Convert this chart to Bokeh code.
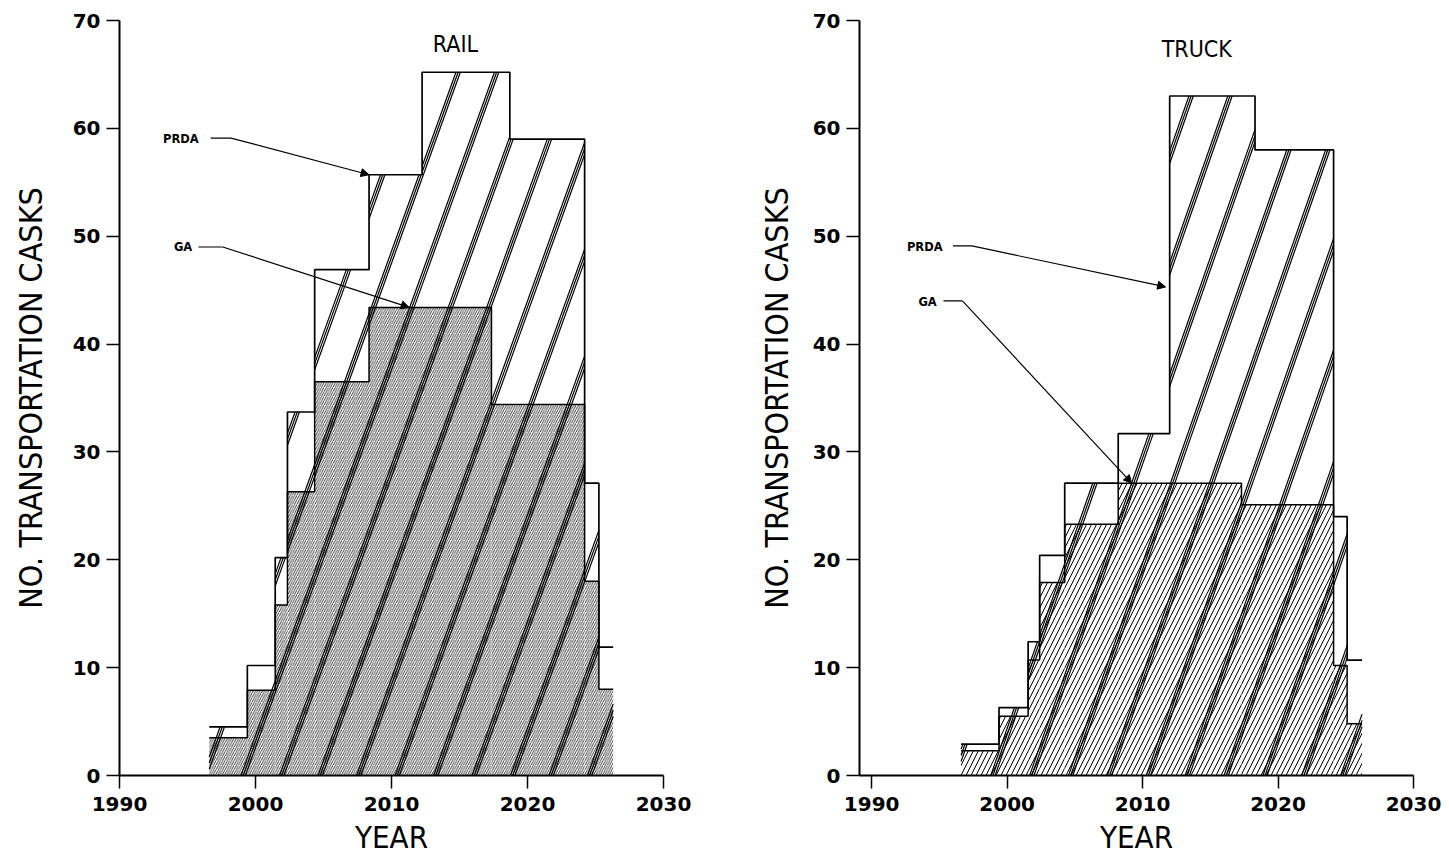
import numpy as np
from bokeh.plotting import figure
from bokeh.layouts import row
from bokeh.models import Arrow, NormalHead, FixedTicker
from bokeh.core.properties import value
from bokeh.embed import file_html
from bokeh.resources import INLINE

# Annual cask shipments, step histograms (bin edges in years)
rail_prda_edges = [1996.6, 1999.4, 2001.45, 2002.35, 2004.35, 2008.35, 2012.25, 2018.7, 2024.2, 2025.25, 2026.3]
rail_prda = [4.5, 10.2, 20.2, 33.7, 46.9, 55.7, 65.2, 59.0, 27.1, 11.9]
rail_ga_edges = [1996.6, 1999.4, 2001.45, 2002.35, 2004.35, 2008.35, 2017.35, 2024.2, 2025.25, 2026.3]
rail_ga = [3.5, 7.9, 15.8, 26.3, 36.5, 43.4, 34.4, 18.0, 8.0]

truck_prda_edges = [1996.6, 1999.4, 2001.55, 2002.4, 2004.25, 2008.2, 2012.0, 2018.3, 2024.1, 2025.1, 2026.2]
truck_prda = [2.9, 6.3, 12.4, 20.4, 27.1, 31.7, 63.0, 58.0, 24.0, 10.7]
truck_ga_edges = [1996.6, 1999.4, 2001.55, 2002.4, 2004.25, 2008.2, 2017.3, 2024.1, 2025.1, 2026.2]
truck_ga = [2.3, 5.5, 10.7, 17.9, 23.3, 27.1, 25.1, 10.2, 4.8]

year_ticks = [1990, 2000, 2010, 2020, 2030]
cask_ticks = [0, 10, 20, 30, 40, 50, 60, 70]

TICK_FONT = "DejaVu Sans"
LABEL_FONT = "DejaVu Sans Condensed"


def band_segments(edges, heights, first, spacing, slope, offsets):
    """Clip steep triple-line bands to the step envelope."""
    x0, y0, x1, y1 = [], [], [], []
    k_lo = int(np.floor((1950 - first) / spacing))
    k_hi = int(np.ceil((edges[-1] - first) / spacing)) + 1
    for k in range(k_lo, k_hi):
        for off in offsets:
            c = first + k * spacing + off
            for a, b, h in zip(edges[:-1], edges[1:], heights):
                xs = max(a, c)
                xe = min(b, c + h / slope)
                if xe > xs:
                    x0.append(xs)
                    y0.append(slope * (xs - c))
                    x1.append(xe)
                    y1.append(slope * (xe - c))
    return x0, y0, x1, y1


def panel(name, prda_edges, prda, ga_edges, ga, hatch, band, x_start,
          width, borders, title_xy, notes, ylabel_standoff):
    left, right, top, bottom = borders
    p = figure(width=width, height=857, x_range=(x_start, 2030), y_range=(0, 70),
               output_backend="svg", toolbar_location=None,
               min_border_left=left, min_border_right=right,
               min_border_top=top, min_border_bottom=bottom)
    p.outline_line_color = None
    p.grid.visible = False
    p.background_fill_color = "white"
    p.border_fill_color = "white"

    # GA: hatched area
    hatch_scale, hatch_weight = hatch
    p.quad(left=ga_edges[:-1], right=ga_edges[1:], bottom=0, top=ga,
           fill_color="white", line_color=None,
           hatch_pattern="/", hatch_scale=hatch_scale, hatch_weight=hatch_weight,
           hatch_color="black")

    # steep triple-line bands across the PRDA envelope
    first, spacing, slope = band
    x0, y0, x1, y1 = band_segments(prda_edges, prda, first, spacing, slope,
                                   [-0.16, 0.0, 0.16])
    p.segment(x0=x0, y0=y0, x1=x1, y1=y1, line_color="black", line_width=1.2)

    # step outlines
    p.step(x=ga_edges, y=ga + [ga[-1]], mode="after", line_color="black", line_width=1.5)
    p.step(x=prda_edges, y=prda + [prda[-1]], mode="after", line_color="black", line_width=1.7)

    # panel title
    p.text(x=[title_xy[0]], y=[title_xy[1]], text=[name], text_align="center",
           text_baseline="middle", text_font=value(LABEL_FONT),
           text_font_size="23px", text_color="black")

    # leader annotations
    for label, tx, ty, lx0, lx1, ly, tipx, tipy in notes:
        p.text(x=[tx], y=[ty], text=[label], text_align="left", text_baseline="middle",
               text_font=value(TICK_FONT), text_font_style="bold",
               text_font_size="11.5px", text_color="black")
        p.line(x=[lx0, lx1], y=[ly, ly], line_color="black", line_width=1.2)
        p.add_layout(Arrow(end=NormalHead(size=8, fill_color="black", line_color="black"),
                           x_start=lx1, y_start=ly, x_end=tipx, y_end=tipy,
                           line_color="black", line_width=1.2))

    p.xaxis.ticker = FixedTicker(ticks=year_ticks)
    p.yaxis.ticker = FixedTicker(ticks=cask_ticks)
    p.xaxis.axis_label = "YEAR"
    p.yaxis.axis_label = "NO. TRANSPORTATION CASKS"
    for ax in (p.xaxis, p.yaxis):
        ax.axis_line_width = 2
        ax.axis_line_color = "black"
        ax.major_tick_line_width = 1.5
        ax.major_tick_line_color = "black"
        ax.major_tick_in = 0
        ax.major_tick_out = 13
        ax.minor_tick_line_color = None
        ax.major_label_text_font = TICK_FONT
        ax.major_label_text_font_style = "bold"
        ax.major_label_text_font_size = "20px"
        ax.major_label_text_color = "black"
        ax.axis_label_text_font = LABEL_FONT
        ax.axis_label_text_font_style = "normal"
        ax.axis_label_text_color = "black"
    p.xaxis.axis_label_text_font_size = "31px"
    p.yaxis.axis_label_text_font_size = "32px"
    p.xaxis.major_label_standoff = 8
    p.yaxis.major_label_standoff = 6
    p.xaxis.axis_label_standoff = 5
    p.yaxis.axis_label_standoff = ylabel_standoff
    return p


rail = panel(
    "RAIL", rail_prda_edges, rail_prda, rail_ga_edges, rail_ga, (4.5, 0.75),
    (1999.1, 2.83, 3.5), 1990, 720, (119, 57, 20, 78), (2014.7, 67.8),
    [("PRDA", 1993.2, 59.0, 1996.7, 1998.2, 59.1, rail_prda_edges[5], rail_prda[5]),
     ("GA", 1994.0, 49.0, 1995.8, 1997.6, 49.0, 2011.3, rail_ga[5])],
    20)

truck = panel(
    "TRUCK", truck_prda_edges, truck_prda, truck_ga_edges, truck_ga, (10, 1),
    (1998.95, 2.87, 3.6), 1989.1, 729, (139, 36, 20, 78), (2014.0, 67.4),
    [("PRDA", 1992.6, 49.0, 1996.0, 1997.4, 49.1, 2011.7, 45.3),
     ("GA", 1993.45, 43.9, 1995.3, 1996.7, 44.0, 2009.2, truck_ga[5])],
    14)

layout = row(rail, truck)
open("out.html", "w").write(file_html(layout, INLINE))
